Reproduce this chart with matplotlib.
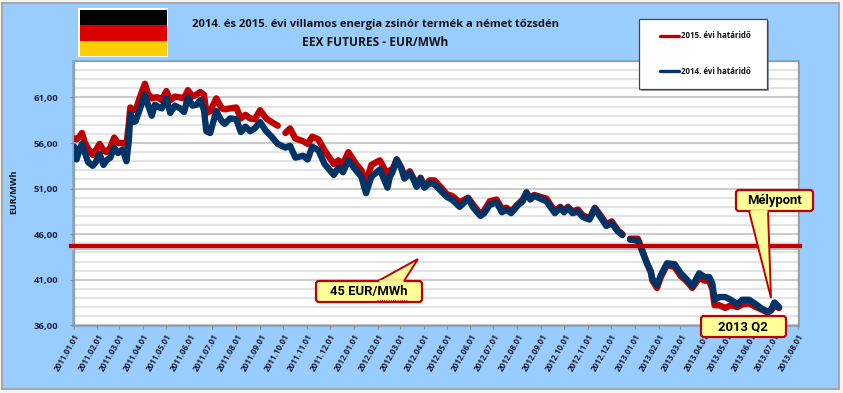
import numpy as np
import pandas as pd
import matplotlib
matplotlib.use("Agg")
import matplotlib.pyplot as plt
import matplotlib.dates as mdates
from matplotlib.patches import Rectangle, FancyBboxPatch, Polygon
from matplotlib.ticker import FixedLocator, MultipleLocator, FuncFormatter

W, H = 843, 393
nan = np.nan

# days since 2011.01.01
days = [1, 4, 8, 11, 15, 19, 25, 29, 34, 39, 43, 48, 53, 58, 64, 69, 72, 74, 78, 81, 86, 93, 97,
        102, 106, 110, 115, 121, 126, 132, 139, 144, 149, 155, 160, 165, 170, 173, 178, 186, 193,
        197, 204, 212, 218, 224, 230, 236, 243, 251, 258, 266, 271, 276, 282, 289, 299, 305, 311,
        319, 327, 339, 345, 351, 358, 368, 375, 381, 388, 399, 409,
        412, 415, 421, 427, 431, 438, 443, 447, 452, 457, 464, 470, 479, 486, 493, 503, 514, 520,
        530, 535, 542, 551, 558, 564, 570, 579, 585, 590, 595, 600, 608, 616, 627,
        634, 639, 644, 650, 657, 663, 672, 679, 687, 694, 701, 709, 715, 720, 725, 735, 740, 746,
        752, 754, 760, 765,
        773, 783, 791, 798, 806, 815, 822, 828, 832, 835, 841, 849, 856, 865, 871, 880, 889, 897,
        904, 908, 913, 919]

hatarido_2015 = [56.5, 56.4, 56.7, 57.1, 56.0, 55.4, 54.7, 55.2, 55.9, 55.2, 55.0, 55.5, 56.6, 56.0,
                 56.0, 55.9, 58.0, 59.9, 59.6, 59.6, 60.9, 62.5, 61.4, 60.9, 61.0, 61.0, 60.7, 61.7,
                 60.7, 61.1, 61.0, 60.9, 61.8, 61.1, 61.3, 61.6, 61.3, 59.3, 59.5, 60.9, 59.8,
                 59.7, 59.8, 59.9, 58.7, 59.1, 58.7, 58.6, 59.6, 58.7, 58.3, 57.9, nan, 57.1, 57.6,
                 56.5, 56.2, 55.9, 56.7, 56.4, 55.2, 53.7, 54.1, 53.7, 55.0, 53.7, 53.0, 51.7, 53.6,
                 54.1, 52.5,
                 53.0, 53.0, 54.2, 53.3, 52.3, 52.9, 52.1, 51.3, 52.2, 51.3, 51.9, 51.9, 51.1, 50.4,
                 50.2, 49.5, 50.0, 49.3, 48.2, 48.6, 49.6, 49.8, 48.8, 48.9, 48.5, 49.3, 49.8, 50.5,
                 50.0, 50.3, 50.1, 49.9, 48.5,
                 49.0, 48.6, 49.0, 48.5, 48.7, 48.1, 47.7, 48.9, 48.0, 47.1, 47.4, 46.4, 46.0, nan,
                 45.5, 45.5, 44.4, 43.0, 41.8, 40.9, 40.1, 41.3,
                 42.6, 42.4, 41.4, 40.9, 40.1, 41.2, 40.9, 40.9, 40.0, 38.2, 38.2, 37.9, 38.2, 38.0,
                 38.3, 38.4, 38.0, 37.7, 37.4, 37.6, 38.1, 37.9]

hatarido_2014 = [55.6, 54.2, 55.3, 55.9, 54.9, 53.9, 53.5, 53.9, 54.8, 53.6, 54.1, 54.4, 55.5, 54.9,
                 55.3, 54.0, 56.2, 59.2, 58.3, 58.4, 59.6, 61.3, 60.2, 59.0, 60.2, 60.0, 59.8, 60.9,
                 59.3, 60.1, 59.8, 59.4, 61.0, 60.1, 60.2, 60.7, 59.6, 57.3, 57.1, 59.5, 58.4,
                 58.1, 58.7, 58.6, 57.2, 57.8, 57.3, 57.6, 58.3, 57.3, 56.7, 55.9, 55.7, 55.5, 55.7,
                 54.4, 54.6, 54.2, 55.6, 55.2, 53.7, 52.5, 53.3, 52.8, 54.1, 53.0, 52.3, 50.5, 52.3,
                 53.1, 51.1,
                 52.3, 52.7, 54.2, 53.2, 52.1, 52.7, 52.0, 51.2, 52.1, 51.1, 51.6, 51.5, 50.7, 50.1,
                 49.8, 49.0, 49.9, 49.0, 48.0, 48.3, 49.2, 49.5, 48.4, 48.7, 48.3, 49.2, 49.6, 50.6,
                 49.8, 50.2, 49.9, 49.6, 48.3,
                 48.9, 48.4, 48.9, 48.3, 48.5, 47.9, 47.6, 48.8, 47.8, 46.9, 47.2, 46.3, 45.9, nan,
                 45.4, 45.3, 44.3, 43.0, 41.9, 41.1, 40.4, 41.5,
                 42.8, 42.7, 41.7, 41.1, 40.3, 41.7, 41.3, 41.3, 40.6, 38.8, 39.1, 39.1, 38.8, 38.3,
                 38.8, 38.8, 38.3, 37.8, 37.5, 37.6, 38.5, 38.0]

szint_45 = 44.7
y_major = [36, 41, 46, 51, 56, 61]
month_ticks = pd.date_range("2011-01-01", "2013-08-01", freq="MS")
dates = pd.Timestamp("2011-01-01") + pd.to_timedelta(days, unit="D")

title_font = ["Open Sans", "DejaVu Sans"]
narrow_font = ["Roboto", "Liberation Sans"]
red = "#c00000"
blue = "#003366"

fig = plt.figure(figsize=(W / 100, H / 100), dpi=100, facecolor="#f4f4f4")


def pixel_axes(zorder):
    a = fig.add_axes([0, 0, 1, 1], zorder=zorder)
    a.set_xlim(0, W)
    a.set_ylim(H, 0)
    a.axis("off")
    return a


bg = pixel_axes(0)
top = pixel_axes(3)

bg.add_patch(Rectangle((2, 3), 837, 386, fc="#99ccff", ec="#a6a6a6", lw=1.4))
bg.add_patch(Rectangle((72, 59.5), 727.5, 267, fc="#6f8fb0", ec="none", alpha=0.5))

# flag
top.add_patch(Rectangle((78, 8), 90, 49, fc="white", ec="none"))
top.add_patch(Rectangle((79.5, 9.5), 87, 15.5, fc="#000000", ec="none"))
top.add_patch(Rectangle((79.5, 25), 87, 15.5, fc="#dd0000", ec="none"))
top.add_patch(Rectangle((79.5, 40.5), 87, 15.5, fc="#ffce00", ec="none"))

top.text(375, 24.5, "2014. és 2015. évi villamos energia zsinór termék a német tőzsdén",
         family=title_font, fontsize=8.15, fontweight="bold", ha="center", va="center", color="#111111")
top.text(375, 42, "EEX FUTURES - EUR/MWh",
         family=title_font, fontsize=8.6, fontweight="bold", ha="center", va="center", color="#111111")
top.text(14, 192, "EUR/MWh", family=title_font, fontsize=6.5, fontweight="bold",
         rotation=90, ha="center", va="center", color="#111111")

# main plot
ax = fig.add_axes([73.5 / W, 1 - 325.3 / H, (797.5 - 73.5) / W, (325.3 - 61) / H], zorder=1)
ax.set_facecolor("white")
ax.plot(dates, hatarido_2015, color=red, lw=4.6, solid_capstyle="round", solid_joinstyle="round",
        zorder=3, label="2015. évi határidő")
ax.plot(dates, hatarido_2014, color=blue, lw=4.6, solid_capstyle="round", solid_joinstyle="round",
        zorder=4, label="2014. évi határidő")
ax.axhline(szint_45 - 0.25, xmin=-0.004, xmax=1.004, color="#bdbdbd", lw=3.0, clip_on=False, zorder=2)
ax.axhline(szint_45, xmin=-0.004, xmax=1.004, color=red, lw=3.0, clip_on=False, zorder=5)

ax.set_xlim(month_ticks[0], month_ticks[-1])
ax.set_ylim(36, 65)
ax.xaxis.set_major_locator(FixedLocator(mdates.date2num(month_ticks)))
ax.xaxis.set_major_formatter(mdates.DateFormatter("%Y.%m.%d"))
ax.yaxis.set_major_locator(FixedLocator(y_major))
ax.yaxis.set_minor_locator(MultipleLocator(1))
ax.yaxis.set_major_formatter(FuncFormatter(lambda v, p: f"{v:.2f}".replace(".", ",")))
ax.grid(which="major", axis="y", color="#bcbcbc", lw=1.1, zorder=1)
ax.grid(which="minor", axis="y", color="#e0e0e0", lw=1.3, zorder=0)
ax.set_axisbelow(True)
ax.tick_params(axis="y", which="minor", length=0)
ax.tick_params(axis="y", which="major", length=3, color="#888888", pad=8)
ax.tick_params(axis="x", length=3, color="#888888", pad=2)
for lab in ax.get_xticklabels():
    lab.set(rotation=60, ha="right", va="top", rotation_mode="anchor", fontsize=5.9,
            fontweight="bold", family=title_font, color="#1a1a2a")
for lab in ax.get_yticklabels():
    lab.set(fontsize=6.8, fontweight="bold", family=title_font, color="#1a2238")
for side in ax.spines.values():
    side.set_color("#999999")
    side.set_linewidth(0.9)

# legend box
top.add_patch(Rectangle((641, 21), 128, 70, fc="#4a5a70", ec="none", alpha=0.55))
top.add_patch(Rectangle((639, 19), 128, 69.5, fc="white", ec="#444444", lw=0.9))
for y_leg, col, name in [(36, red, "2015. évi határidő"), (71, blue, "2014. évi határidő")]:
    top.plot([660, 679], [y_leg, y_leg], color=col, lw=2.4, solid_capstyle="round")
    top.text(681, y_leg, name, family=title_font, fontsize=5.7, fontweight="bold",
             ha="left", va="center", color="#111111")


def callout(x0, y0, x1, y1, text, tx, fs, pointer=None):
    if pointer is not None:
        top.add_patch(Polygon(pointer, closed=True, fc="#ffff99", ec=red, lw=1.4, joinstyle="miter", zorder=5))
    top.add_patch(FancyBboxPatch((x0 + 3, y0 + 3), x1 - x0 - 6, y1 - y0 - 6,
                                 boxstyle="round,pad=3,rounding_size=3",
                                 fc="#ffff99", ec=red, lw=1.6, zorder=6))
    if pointer is not None:
        # cover the box edge where the pointer joins it
        top.plot([pointer[0][0] + 1, pointer[2][0] - 1], [pointer[0][1], pointer[2][1]],
                 color="#ffff99", lw=2.0, zorder=7, solid_capstyle="butt")
    top.text(tx, (y0 + y1) / 2 + 0.3, text, family=narrow_font, fontsize=fs, fontweight="bold",
             ha="center", va="center", color="black", zorder=8)


callout(316, 281, 422, 302, "45 EUR/MWh", 369, 9.4,
        pointer=[(378, 281), (418, 259), (404, 281)])
top.plot([377, 407], [300.3, 300.3], color="#dd2222", lw=0.8, ls=(0, (1, 1)), zorder=9)
callout(736, 190, 813, 211, "Mélypont", 775, 9.4,
        pointer=[(749, 211), (771, 298), (768, 211)])
callout(701, 316, 786, 337, "2013 Q2", 743, 9.4)

fig.savefig("out.png", dpi=100, facecolor=fig.get_facecolor())
